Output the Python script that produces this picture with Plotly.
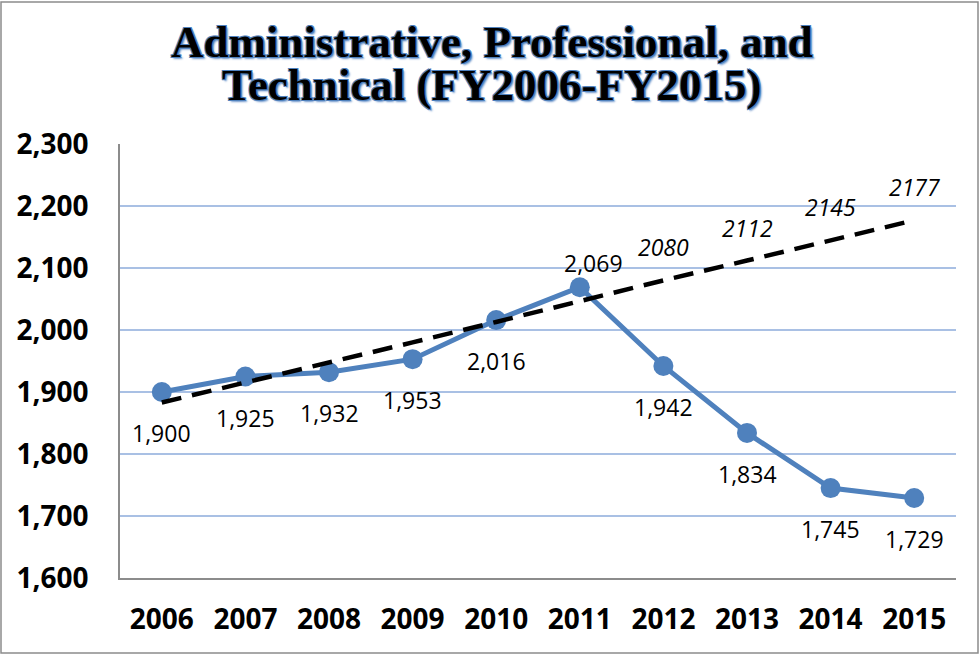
import plotly.graph_objects as go

years = [2006, 2007, 2008, 2009, 2010, 2011, 2012, 2013, 2014, 2015]
employees = [1900, 1925, 1932, 1953, 2016, 2069, 1942, 1834, 1745, 1729]
# linear trend (labels shown only for last four)
trend = [1883, 1915, 1948, 1980, 2013, 2047, 2080, 2112, 2145, 2177]
trend_labeled = [2012, 2013, 2014, 2015]
y_ticks = [1600, 1700, 1800, 1900, 2000, 2100, 2200, 2300]
title_lines = ["Administrative, Professional, and", "Technical (FY2006-FY2015)"]

blue = "#4F81BD"
PLOT_TOP, PLOT_BOTTOM, PLOT_LEFT, PLOT_RIGHT = 144, 578, 120, 956
plot_h = PLOT_BOTTOM - PLOT_TOP
plot_w = PLOT_RIGHT - PLOT_LEFT


def py(px):  # pixel row -> paper y
    return (PLOT_BOTTOM - px) / plot_h


def px_x(px):  # pixel column -> paper x
    return (px - PLOT_LEFT) / plot_w


fig = go.Figure()
fig.add_trace(go.Scatter(
    x=years, y=employees, mode="lines+markers",
    line=dict(color=blue, width=5),
    marker=dict(color=blue, size=20),
    showlegend=False,
))
fig.add_trace(go.Scatter(
    x=years, y=trend, mode="lines",
    line=dict(color="black", width=4.5, dash="20px,11px"),
    hoverinfo="skip", showlegend=False,
))

# data labels (below the points, except the 2011 peak)
for yr, v in zip(years, employees):
    fig.add_annotation(
        x=yr, y=v, text=f"{v:,}", showarrow=False,
        yshift=24 if yr == 2011 else -41,
        xshift=14 if yr == 2011 else 0,
        font=dict(family="Open Sans", size=23, color="black"),
    )
for yr, v in zip(years, trend):
    if yr in trend_labeled:
        fig.add_annotation(
            x=yr, y=v, text=str(v), showarrow=False, yshift=33,
            font=dict(family="Open Sans", size=23, color="black", style="italic"),
        )

# two-line title
title_font = dict(
    family="Liberation Serif", size=45, color="black", weight="bold",
    shadow="1px 1px 0 #4F81BD, -1px -1px 0 #4F81BD, 1px -1px 0 #4F81BD, "
           "-1px 1px 0 #4F81BD, 2px 2px 2px #6F96CB",
)
for line, row in zip(title_lines, [42, 85]):
    fig.add_annotation(
        xref="paper", yref="paper", x=px_x(492), y=py(row),
        xanchor="center", yanchor="middle", text=line, showarrow=False,
        font=title_font,
    )

# outer chart border
fig.add_shape(
    type="rect", xref="paper", yref="paper",
    x0=px_x(1), x1=px_x(978), y0=py(653), y1=py(2),
    line=dict(color="#8C8C8C", width=1.5),
)

fig.update_layout(
    width=980, height=656,
    margin=dict(l=PLOT_LEFT, r=980 - PLOT_RIGHT, t=PLOT_TOP, b=656 - PLOT_BOTTOM),
    paper_bgcolor="white", plot_bgcolor="white",
)
fig.update_xaxes(
    range=[2005.5, 2015.5], tickvals=years, tickformat="d",
    showline=True, linecolor="#8C8C8C", linewidth=1.5,
    showgrid=False, zeroline=False, ticks="", ticklabelstandoff=16,
    tickfont=dict(family="Open Sans", size=28, color="black", weight="bold"),
)
fig.update_yaxes(
    range=[1600, 2300], tickvals=y_ticks, tickformat=",",
    showline=True, linecolor="#8C8C8C", linewidth=1.5,
    showgrid=True, gridcolor="#A9C0E4", gridwidth=1.5, zeroline=False,
    ticks="", ticklabelstandoff=24,
    tickfont=dict(family="Open Sans", size=28, color="black", weight="bold"),
)

fig.write_html("out.html", config={"displayModeBar": False},
               post_script="document.body.style.margin='0';")
